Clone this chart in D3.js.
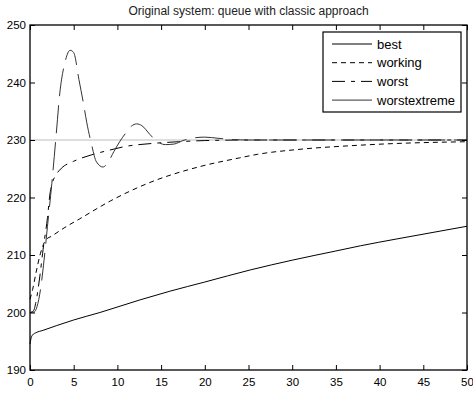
<!DOCTYPE html>
<html>
<head>
<meta charset="utf-8">
<script src="https://cdn.jsdelivr.net/npm/d3@7"></script>
<style>
  body { margin: 0; background: #fff; }
  svg text { font-family: "Liberation Sans", Arial, sans-serif; fill: #000; }
</style>
</head>
<body>
<div id="chart"></div>
<script>
const WIDTH = 473
const HEIGHT = 408

var margin = {top: 25, right: 6, bottom: 38, left: 30},
    width = WIDTH - margin.left - margin.right,
    height = HEIGHT - margin.top - margin.bottom;

// data
var xTicks = [0, 5, 10, 15, 20, 25, 30, 35, 40, 45, 50]
var yTicks = [190, 200, 210, 220, 230, 240, 250]

var bestX = [0, 0.1, 0.3, 0.7, 1.5, 3, 5, 8, 12.6, 16, 20, 25.2, 30, 35, 37.8, 42, 46, 50]
var bestY = [194.5, 195.4, 196.1, 196.5, 196.9, 197.7, 198.7, 200.0, 202.2, 203.7, 205.3, 207.4, 209.1, 210.7, 211.6, 212.8, 213.9, 215.0]

var workingX = [0, 0.3, 0.7, 1.2, 1.8, 2.5, 4, 5.7, 9.2, 13.7, 19.5, 24, 26, 31, 36.6, 42, 50]
var workingY = [202.3, 204, 207, 210.3, 212.6, 213.3, 214.8, 216.3, 219.4, 222.6, 225.4, 226.9, 227.5, 228.4, 229.0, 229.4, 229.7]

var worstX = [0, 0.4, 0.7, 1.1, 1.5, 2.0, 2.3, 2.55, 3.0, 3.6, 5, 7, 9, 11, 14, 17, 20, 25, 50]
var worstY = [200, 200.3, 202, 206, 211, 216.5, 220.8, 222.5, 224, 225.1, 226.3, 227.4, 228.2, 228.9, 229.4, 229.7, 229.9, 230, 230]

var extremeX = [0, 0.5, 0.8, 1.2, 1.6, 2.0, 2.5, 3.0, 3.4, 4.0, 4.6, 5.0, 5.6, 6.1, 6.5, 7.0, 7.6, 8.35, 9.0, 9.6, 10.3, 11.0, 11.6, 12.2, 12.8, 13.7, 14.5, 15.5, 16.5, 17.5, 18.5, 20, 21.5, 23, 25, 50]
var extremeY = [200, 200.1, 201, 204, 209, 215, 222.5, 231, 238, 243.5, 245.6, 245.2, 240.5, 236.5, 233, 229.5, 226.2, 225.3, 226.3, 228, 229.8, 231.3, 232.4, 232.8, 232.5, 231, 229.8, 229.2, 229.3, 229.9, 230.3, 230.5, 230.3, 230.1, 230, 230]

var refValue = 230

var seriesNames = ["best", "working", "worst", "worstextreme"]

// styles per series (legend look)
var styles = {
	"best": {color: "#000", dash: null},
	"working": {color: "#000", dash: "5,4"},
	"worst": {color: "#000", dash: "13,6,4,6"},
	"worstextreme": {color: "#333", dash: null}
}

var series = [
	{name: "best", xs: bestX, ys: bestY, dash: null},
	{name: "working", xs: workingX, ys: workingY, dash: "5,4"},
	{name: "worst", xs: worstX, ys: worstY, dash: "13,6,4,6"},
	{name: "worstextreme", xs: extremeX, ys: extremeY, dash: "28,9"}
]

var svg = d3.select("#chart")
	.append("svg")
	.attr("width", WIDTH)
	.attr("height", HEIGHT)

svg.append("rect").attr("width", WIDTH).attr("height", HEIGHT).attr("fill", "#fff")

var g = svg.append("g")
	.attr("transform", "translate(" + margin.left + "," + margin.top + ")");

var x = d3.scaleLinear().domain([0, 50]).range([0, width])
var y = d3.scaleLinear().domain([190, 250]).range([height, 0])

// title
svg.append("text")
	.attr("x", margin.left + width / 2)
	.attr("y", 15)
	.attr("text-anchor", "middle")
	.style("font-size", "12px")
	.style("fill", "#222")
	.text("Original system: queue with classic approach")

// reference line
g.append("line")
	.attr("x1", 0).attr("x2", width)
	.attr("y1", y(refValue)).attr("y2", y(refValue))
	.attr("stroke", "#bdbdbd")
	.attr("stroke-width", 1)

// lines
var line = d3.line()
	.x(function(d) { return x(d[0]) })
	.y(function(d) { return y(d[1]) })
	.curve(d3.curveMonotoneX)

series.forEach(function(s) {
	var pts = s.xs.map(function(v, i) { return [v, s.ys[i]] })
	g.append("path")
		.datum(pts)
		.attr("d", line)
		.attr("fill", "none")
		.attr("stroke", styles[s.name].color)
		.attr("stroke-width", 1)
		.attr("stroke-dasharray", s.dash)
})

// axes, ticks inward on all sides
var tickLen = 5
g.append("g")
	.attr("transform", "translate(0," + height + ")")
	.call(d3.axisBottom(x).tickValues(xTicks).tickSizeInner(-tickLen).tickSizeOuter(0).tickPadding(8))
g.append("g")
	.call(d3.axisLeft(y).tickValues(yTicks).tickSizeInner(-tickLen).tickSizeOuter(0).tickPadding(4))
g.append("g")
	.call(d3.axisTop(x).tickValues(xTicks).tickSizeInner(-tickLen).tickSizeOuter(0).tickFormat(""))
g.append("g")
	.attr("transform", "translate(" + width + ",0)")
	.call(d3.axisRight(y).tickValues(yTicks).tickSizeInner(-tickLen).tickSizeOuter(0).tickFormat(""))

g.selectAll(".tick text").style("font-size", "11.5px").style("font-family", "'Liberation Sans', Arial, sans-serif")
g.selectAll(".domain").remove()

// frame
g.append("rect")
	.attr("width", width).attr("height", height)
	.attr("fill", "none").attr("stroke", "#000").attr("stroke-width", 1.3)

// legend
var legend = svg.append("g").attr("transform", "translate(323,32)")
legend.append("rect")
	.attr("width", 138).attr("height", 80)
	.attr("fill", "#fff").attr("stroke", "#000").attr("stroke-width", 1.2)

seriesNames.forEach(function(name, i) {
	var ly = 12 + i * 18.7
	legend.append("line")
		.attr("x1", 9).attr("x2", 49)
		.attr("y1", ly).attr("y2", ly)
		.attr("stroke", styles[name].color)
		.attr("stroke-width", 1)
		.attr("stroke-dasharray", styles[name].dash)
	legend.append("text")
		.attr("x", 54).attr("y", ly + 4.5)
		.style("font-size", "13px")
		.text(name)
})
</script>
</body>
</html>
